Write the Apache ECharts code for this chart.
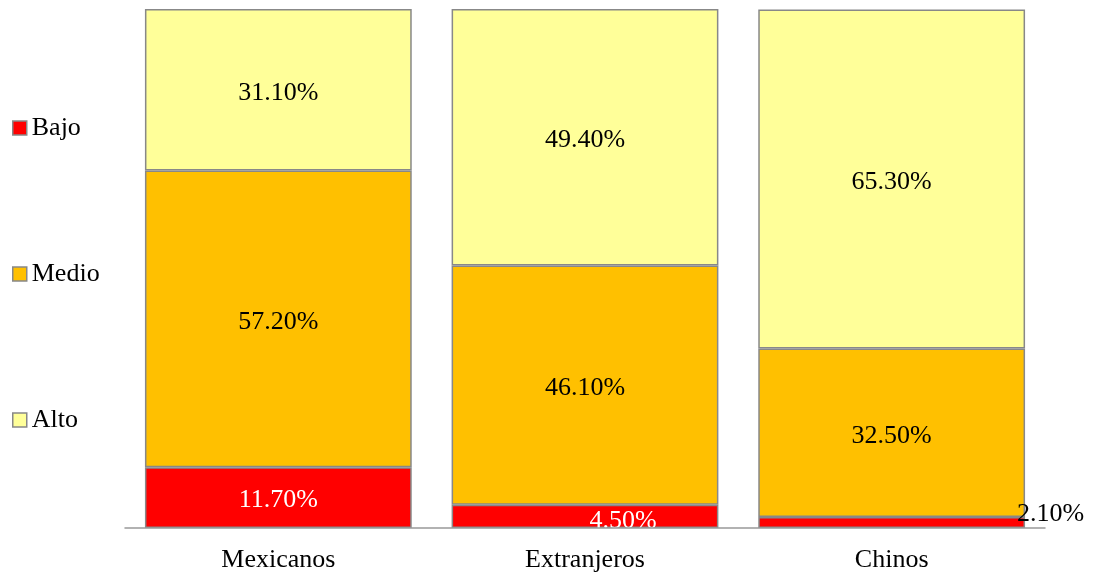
<!DOCTYPE html>
<html><head><meta charset="utf-8">
<script src="https://cdn.jsdelivr.net/npm/echarts@6/dist/echarts.min.js"></script>
<style>html,body{margin:0;padding:0;background:#fff}#c{width:1093px;height:576px}</style>
</head><body><div id="c"></div>
<script>
const categories = ['Mexicanos', 'Extranjeros', 'Chinos'];
const bajo = [11.7, 4.5, 2.1];
const medio = [57.2, 46.1, 32.5];
const alto = [31.1, 49.4, 65.3];
const seriesNames = ['Bajo', 'Medio', 'Alto'];

const font = '"Liberation Serif", "Times New Roman", serif';
const border = {borderColor: '#888888', borderWidth: 1.5};
const fmt = p => p.value.toFixed(2) + '%';

const chart = echarts.init(document.getElementById('c'));
chart.setOption({
  animation: false,
  textStyle: {fontFamily: font},
  legend: {
    orient: 'vertical', left: 12, top: 115, padding: 0,
    itemWidth: 14, itemHeight: 14, itemGap: 120,
    icon: 'rect',
    textStyle: {fontFamily: font, fontSize: 26, color: '#000'},
    itemStyle: {borderColor: '#888888', borderWidth: 1.5},
    data: seriesNames
  },
  grid: {left: 125, right: 48, top: 9, bottom: 48},
  xAxis: {
    type: 'category', data: categories, z: 10,
    axisLine: {lineStyle: {color: '#999999', width: 1.5}},
    axisTick: {show: false},
    axisLabel: {fontFamily: font, fontSize: 26, color: '#000', margin: 19}
  },
  yAxis: {type: 'value', min: 0, max: 100, show: false, splitLine: {show: false}},
  series: [
    {name: 'Bajo', type: 'bar', stack: 's', barCategoryGap: '13%',
     itemStyle: Object.assign({color: '#FF0000'}, border),
     label: {show: true, fontFamily: font, fontSize: 26, color: '#fff', formatter: fmt, offset: [0, 3]},
     data: [
       {value: bajo[0]},
       {value: bajo[1], label: {offset: [38, 5]}},
       {value: bajo[2], label: {color: '#000', offset: [159, -8]}}
     ]},
    {name: 'Medio', type: 'bar', stack: 's',
     itemStyle: Object.assign({color: '#FFC000'}, border),
     label: {show: true, fontFamily: font, fontSize: 26, color: '#000', formatter: fmt, offset: [0, 3]},
     data: medio},
    {name: 'Alto', type: 'bar', stack: 's',
     itemStyle: Object.assign({color: '#FFFF99'}, border),
     label: {show: true, fontFamily: font, fontSize: 26, color: '#000', formatter: fmt, offset: [0, 3]},
     data: alto}
  ]
});
</script></body></html>
